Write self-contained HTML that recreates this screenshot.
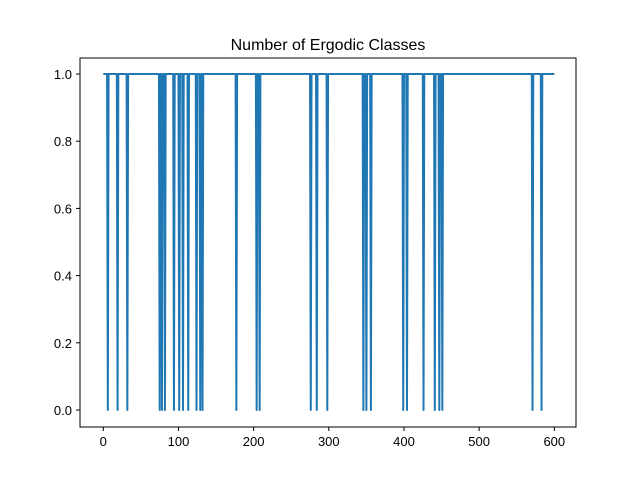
<!DOCTYPE html>
<html><head><meta charset="utf-8"><style>
body{margin:0;background:#fff;}
svg{display:block;font-family:"Liberation Sans","DejaVu Sans",sans-serif;}
</style></head><body>
<svg id="chart" width="640" height="480">
<rect width="640" height="480" fill="#fff"/>
<text x="328" y="50" text-anchor="middle" font-size="16">Number of Ergodic Classes</text>
<g id="plot"></g>
<rect x="80" y="58" width="496" height="369" fill="none" stroke="#000" stroke-width="1"/>
<g id="xt"></g><g id="yt"></g>
</svg>
<script>
const xTicks=[0,100,200,300,400,500,600];
const yTicks=[0.0,0.2,0.4,0.6,0.8,1.0];
const yTickLabels=["0.0","0.2","0.4","0.6","0.8","1.0"];
const dropIndices=[6,19,32,75,78,82,94,101,106,113,124,129,132,177,204,208,276,284,298,346,350,356,399,404,426,441,447,451,571,583];
const xMax=600;
const ns="http://www.w3.org/2000/svg";
const X=v=>103.3+v*0.7517;
const Y=v=>410-v*336;
const xs=[],ys=[];
for(let i=0;i<=xMax;i++){xs.push(i);ys.push(dropIndices.includes(i)?0:1);}
const plot=document.getElementById('plot');
const line=document.createElementNS(ns,'polyline');
line.setAttribute('points',xs.map((x,i)=>X(x).toFixed(2)+','+Y(ys[i]).toFixed(2)).join(' '));
line.setAttribute('fill','none');line.setAttribute('stroke','#1f77b4');line.setAttribute('stroke-width','2');line.setAttribute('stroke-linejoin','round');


plot.appendChild(line);
const xt=document.getElementById('xt');
xTicks.forEach(t=>{
 const l=document.createElementNS(ns,'line');
 l.setAttribute('x1',X(t));l.setAttribute('x2',X(t));l.setAttribute('y1',427);l.setAttribute('y2',431);l.setAttribute('stroke','#000');
 
 
 xt.appendChild(l);
 const tx=document.createElementNS(ns,'text');
 tx.setAttribute('x',X(t));tx.setAttribute('y',446);tx.setAttribute('text-anchor','middle');tx.setAttribute('font-size','13');
 tx.textContent=t;
 
 
 xt.appendChild(tx);
});
const yt=document.getElementById('yt');
yTicks.forEach((t,i)=>{
 const l=document.createElementNS(ns,'line');
 l.setAttribute('x1',76);l.setAttribute('x2',80);l.setAttribute('y1',Y(t));l.setAttribute('y2',Y(t));l.setAttribute('stroke','#000');
 
 
 yt.appendChild(l);
 const tx=document.createElementNS(ns,'text');
 tx.setAttribute('x',72);tx.setAttribute('y',Y(t)+5);tx.setAttribute('text-anchor','end');tx.setAttribute('font-size','13');
 tx.textContent=yTickLabels[i];
 
 
 yt.appendChild(tx);
});
</script>
</body></html>
